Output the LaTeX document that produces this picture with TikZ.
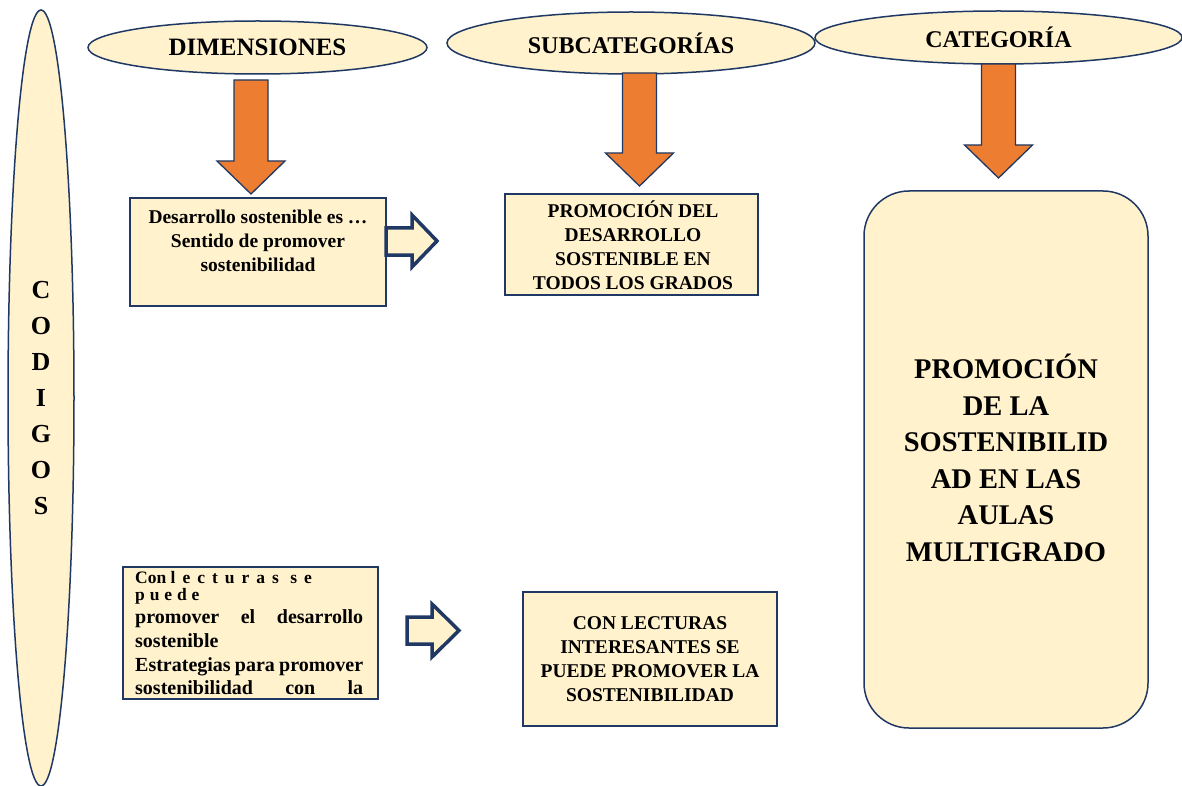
\documentclass[tikz,border=0pt]{standalone}
\usepackage{fontspec}
\setmainfont{Liberation Serif}
\usetikzlibrary{shapes.geometric}
\definecolor{cream}{HTML}{FFF2CC}
\definecolor{navy}{HTML}{1F3864}
\definecolor{orng}{HTML}{ED7D31}
\newcommand\orarrow[4]{\draw[bigarrow] (#1-17,#2) -- (#1+17,#2) -- (#1+17,#3) -- (#1+34,#3) -- (#1,#4) -- (#1-34,#3) -- (#1-17,#3) -- cycle;}
\begin{document}
\begin{tikzpicture}[x=1pt,y=-1pt,
  hdr/.style={ellipse, draw=navy, fill=cream, line width=1.5pt, inner sep=0pt, font=\fontsize{24}{28}\selectfont\bfseries},
  box/.style={draw=navy, fill=cream, line width=1.5pt, inner sep=0pt},
  bigarrow/.style={draw=navy, fill=orng, line width=1.3pt, line join=miter},
  hollow/.style={draw=navy, fill=cream, line width=3.5pt, line join=miter},
  txt/.style={align=center, font=\fontsize{19.5}{24}\selectfont\bfseries, inner sep=0pt},
  ltxt/.style={anchor=base west, inner sep=0pt, font=\fontsize{20}{23.5}\selectfont\bfseries},
  stxt/.style={anchor=base west, inner sep=0pt, font=\fontsize{17.5}{18}\selectfont\bfseries}]
\useasboundingbox (0,0) rectangle (1182,786);
\fill[white] (0,0) rectangle (1182,786);

% left ellipse
\node[hdr, minimum width=66pt, minimum height=776pt, font=\fontsize{26}{36}\selectfont\bfseries, align=center] (codigos) at (41,398) {C\\O\\D\\I\\G\\O\\S};

% headers
\node[hdr, minimum width=339pt, minimum height=53pt, font=\fontsize{25}{28}\selectfont\bfseries] (dim) at (257.5,47.5) {DIMENSIONES};
\node[hdr, minimum width=368pt, minimum height=62pt] (sub) at (631,43) {SUBCATEGORÍAS};
\node[hdr, minimum width=367pt, minimum height=53pt] (cat) at (998.5,37.5) {CATEGORÍA};

% orange arrows
\orarrow{251}{80}{161}{194}
\orarrow{639.5}{73}{153}{186}
\orarrow{998.5}{64}{145}{178}

% boxes
\node[box, minimum width=256pt, minimum height=108pt] (b1) at (258,252) {};
\node[txt] (b1t) at (258,241) {Desarrollo sostenible es …\\Sentido de promover\\sostenibilidad};

\node[box, minimum width=253pt, minimum height=101pt] (b2) at (631.5,244.5) {};
\node[txt] (b2t) at (633,245.5) {PROMOCIÓN DEL\\DESARROLLO\\SOSTENIBLE EN\\TODOS LOS GRADOS};

\node[box, minimum width=254pt, minimum height=134pt] (b3) at (650,659) {};
\node[txt] (b3t) at (650,659) {CON LECTURAS\\INTERESANTES SE\\PUEDE PROMOVER LA\\SOSTENIBILIDAD};

\node[box, minimum width=255pt, minimum height=132pt] (b4) at (250.5,633) {};
\node[stxt] (l1) at (135,583) {Con {\addfontfeature{LetterSpace=40}lecturas se}};
\node[stxt] (l2) at (135,600) {\addfontfeature{LetterSpace=28}puede};
\node[ltxt] (l3) at (135,623) {\makebox[228pt][s]{promover el desarrollo}};
\node[ltxt] (l4) at (135,647) {sostenible};
\node[ltxt] (l5) at (135,671) {\makebox[228pt][s]{Estrategias para promover}};
\node[ltxt] (l6) at (135,694) {\makebox[228pt][s]{sostenibilidad con la}};

% big category box
\node[box, rounded corners=45pt, minimum width=284pt, minimum height=537pt] (big) at (1006,459.5) {};
\node[align=center, inner sep=0pt, font=\fontsize{28.5}{36.5}\selectfont\bfseries] (bigt) at (1006,458) {PROMOCIÓN\\DE LA\\SOSTENIBILID\\AD EN LAS\\AULAS\\MULTIGRADO};

% hollow arrows
\draw[hollow] (386,228) -- (412,228) -- (412,215) -- (437,241) -- (412,267) -- (412,255) -- (386,255) -- cycle;
\draw[hollow] (407,617) -- (432,617) -- (432,604) -- (459,630.5) -- (432,657) -- (432,644) -- (407,644) -- cycle;
\end{tikzpicture}
\end{document}
